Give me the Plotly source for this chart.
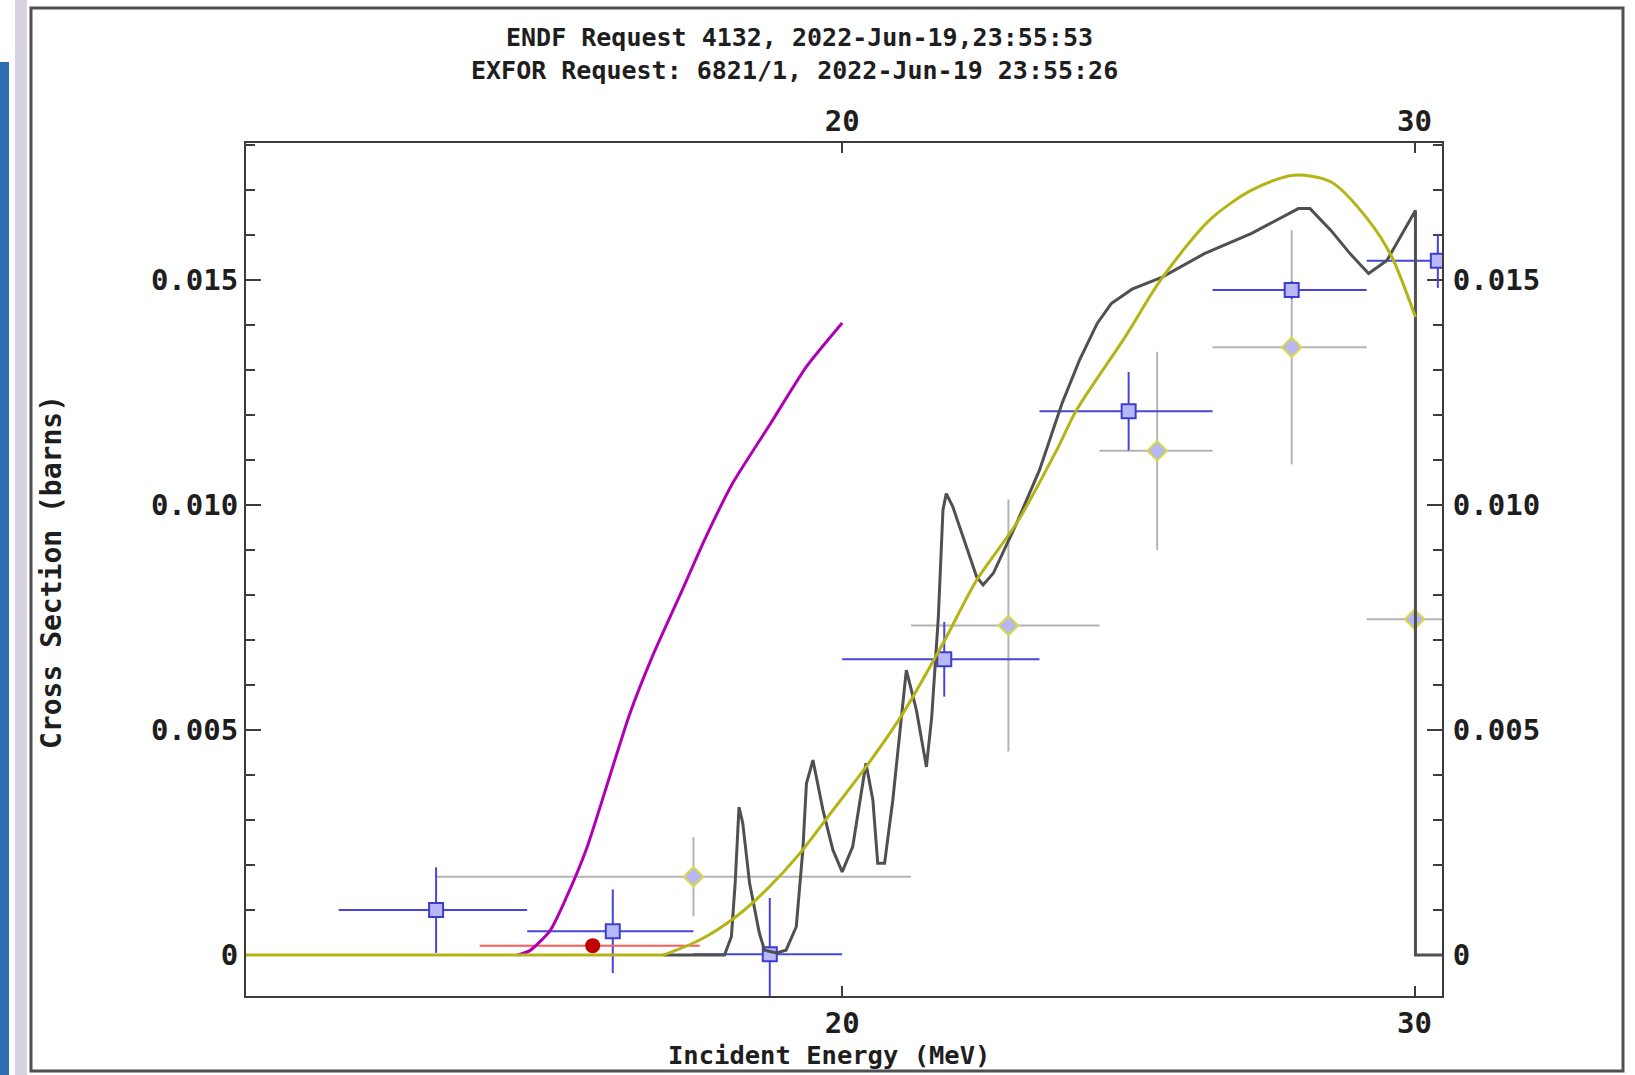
import math
import plotly.graph_objects as go

# ---------------- data ----------------
# EXFOR set 1 (blue squares)
blue_E = [15.0, 17.0, 19.0, 21.5, 24.5, 27.5, 30.5]
blue_dE = [1.0, 1.0, 1.0, 1.5, 1.5, 1.5, 1.5]
blue_sig = [0.00100, 0.00053, 0.00002, 0.00657, 0.01208, 0.01477, 0.01542]
blue_dsig = [0.00095, 0.00093, 0.00125, 0.00083, 0.00087, 0.00020, 0.00060]

# EXFOR set 2 (grey error bars, diamonds)
grey_E = [18.0, 22.5, 25.0, 27.5, 30.0]
grey_dE = [3.0, 1.5, 1.0, 1.5, 1.0]
grey_sig = [0.00174, 0.00732, 0.01120, 0.01350, 0.00746]
grey_dsig = [0.00088, 0.00280, 0.00220, 0.00260, 0.0]

# EXFOR set 3 (red point)
red_E = [16.76]
red_dE_minus = [1.29]
red_dE_plus = [1.32]
red_sig = [0.00021]

# Evaluation 1 (dark grey, with resonance structure)
blk_E = [17.62, 18.40, 18.49, 18.54, 18.59, 18.64, 18.73, 18.86, 18.93, 19.09,
         19.22, 19.36, 19.45, 19.50, 19.59, 19.73, 19.87, 20.00, 20.15, 20.34,
         20.44, 20.51, 20.61, 20.73, 20.93, 21.08, 21.23, 21.31, 21.41, 21.48,
         21.53, 21.63, 22.00, 22.10, 22.26, 22.63, 23.00, 23.37, 23.66, 23.96,
         24.20, 24.56, 25.09, 25.85, 26.73, 27.63, 27.86, 28.28, 28.66, 29.04,
         29.42, 30.02, 30.02, 31.0]
blk_sig = [0.0, 0.0, 0.00041, 0.00160, 0.00329, 0.00293, 0.00160, 0.00049, 0.00011, 0.00005,
           0.00011, 0.00063, 0.00233, 0.00381, 0.00433, 0.00322, 0.00233, 0.00185, 0.00241, 0.00426,
           0.00344, 0.00204, 0.00204, 0.00344, 0.00633, 0.00544, 0.00418, 0.00529, 0.00751, 0.00988,
           0.01025, 0.00996, 0.00840, 0.00822, 0.00848, 0.00959, 0.01077, 0.01225, 0.01321, 0.01403,
           0.01447, 0.01479, 0.01506, 0.01558, 0.01603, 0.01658, 0.01658, 0.01609, 0.01558, 0.01514,
           0.01543, 0.01654, 0.0, 0.0]

# Evaluation 2 (olive, smooth); zero below threshold
yel_E = [13.0, 17.62, 18.08, 18.55, 18.95, 19.41, 19.87, 20.34, 20.88, 21.48,
         22.00, 22.63, 23.28, 23.61, 24.44, 25.06, 25.94, 26.73, 27.54, 28.28,
         29.04, 29.52, 30.02]
yel_sig = [0.0, 0.0, 0.000335, 0.000853, 0.001445, 0.00226, 0.00322, 0.00418, 0.00537, 0.00692,
           0.00833, 0.00959, 0.01121, 0.01210, 0.01373, 0.01499, 0.01632, 0.01699, 0.01732, 0.01717,
           0.01632, 0.01551, 0.01417]
yel_threshold_index = 1

# Evaluation 3 (magenta, up to 20 MeV)
mag_E = [15.89, 16.03, 16.26, 16.45, 16.69, 16.96, 17.20, 17.48, 17.83, 18.16,
         18.51, 19.00, 19.50, 20.0]
mag_sig = [0.0, 0.0001, 0.00054, 0.00128, 0.00238, 0.00395, 0.00533, 0.00662, 0.00800, 0.00929,
           0.01049, 0.01178, 0.01307, 0.01404]

x_ticks = [20, 30]
x_ticktext = ["20", "30"]
y_ticks = [0, 0.005, 0.010, 0.015]
y_ticktext = ["0", "0.005", "0.010", "0.015"]

title1 = "ENDF Request 4132, 2022-Jun-19,23:55:53"
title2 = "EXFOR Request: 6821/1, 2022-Jun-19 23:55:26"
x_title = "Incident Energy (MeV)"
y_title = "Cross Section (barns)"

x_range = [13.11, 30.59]
y_range = [-0.000908, 0.018037]

# ---------------- layout geometry ----------------
W, H = 1635, 1075
PL, PR, PT, PB = 246, 1442, 143, 996


def px(x):
    return (x - PL) / (PR - PL)


def py(y):
    return (PB - y) / (PB - PT)


FONT = "DejaVu Sans Mono"
TXT = "#1e1e1e"
YEL = "#b4b414"

fig = go.Figure()

# data points
fig.add_trace(go.Scatter(
    x=grey_E, y=grey_sig, mode="markers",
    error_x=dict(type="data", array=grey_dE, color="#b4b4b4", thickness=2, width=0),
    error_y=dict(type="data", array=grey_dsig, color="#b4b4b4", thickness=2, width=0),
    marker=dict(symbol="diamond", size=15, color="#b8b8f0",
                line=dict(color="#d8d84a", width=2)),
    showlegend=False, hoverinfo="x+y"))

fig.add_trace(go.Scatter(
    x=blue_E, y=blue_sig, mode="markers",
    error_x=dict(type="data", array=blue_dE, color="#4646d8", thickness=2, width=0),
    error_y=dict(type="data", array=blue_dsig, color="#4646d8", thickness=2, width=0),
    marker=dict(symbol="square", size=14, color="#b8b8f8",
                line=dict(color="#3c3cd0", width=2)),
    showlegend=False, hoverinfo="x+y"))

fig.add_trace(go.Scatter(
    x=red_E, y=red_sig, mode="markers",
    error_x=dict(type="data", array=red_dE_plus, arrayminus=red_dE_minus,
                 color="#ff5a5a", thickness=2, width=0),
    marker=dict(symbol="circle", size=15, color="#c00000"),
    showlegend=False, hoverinfo="x+y"))

# curves
fig.add_trace(go.Scatter(x=blk_E, y=blk_sig, mode="lines",
                         line=dict(color="#505050", width=3),
                         showlegend=False))
fig.add_trace(go.Scatter(x=mag_E, y=mag_sig, mode="lines",
                         line=dict(color="#b000b4", width=3, shape="spline", smoothing=0.6),
                         showlegend=False))
k = yel_threshold_index
fig.add_trace(go.Scatter(x=yel_E[:k + 1], y=yel_sig[:k + 1], mode="lines",
                         line=dict(color=YEL, width=3), showlegend=False))
fig.add_trace(go.Scatter(x=yel_E[k:], y=yel_sig[k:], mode="lines",
                         line=dict(color=YEL, width=3, shape="spline", smoothing=0.8),
                         showlegend=False))

# helper trace so the mirrored (top / right) axes are drawn
fig.add_trace(go.Scatter(x=[x_ticks[0]], y=[y_ticks[0]], xaxis="x2", yaxis="y2",
                         mode="markers", marker=dict(opacity=0),
                         hoverinfo="skip", showlegend=False))

tickfont = dict(family=FONT, size=29, color=TXT, weight="bold")
axis_common = dict(showgrid=False, zeroline=False, showline=True,
                   linecolor="#3c3c3c", linewidth=2, layer="below traces")

xr = [math.log10(x_range[0]), math.log10(x_range[1])]

fig.update_layout(
    width=W, height=H,
    margin=dict(l=PL, r=W - PR, t=PT, b=H - PB, pad=0),
    paper_bgcolor="white", plot_bgcolor="white",
    xaxis=dict(type="log", range=xr, tickvals=x_ticks, ticktext=x_ticktext,
               ticks="inside", ticklen=10, tickwidth=2, tickcolor="#3c3c3c",
               tickfont=tickfont, ticklabelstandoff=0, **axis_common),
    xaxis2=dict(type="log", range=xr, tickvals=x_ticks, ticktext=x_ticktext,
                overlaying="x", side="top", anchor="y",
                ticks="inside", ticklen=10, tickwidth=2, tickcolor="#3c3c3c",
                tickfont=tickfont, ticklabelstandoff=-2, **axis_common),
    yaxis=dict(range=y_range, tickvals=y_ticks, ticktext=y_ticktext,
               ticks="inside", ticklen=15, tickwidth=2, tickcolor="#3c3c3c",
               minor=dict(ticks="inside", ticklen=9, dtick=0.001, tick0=0,
                          tickcolor="#3c3c3c", tickwidth=2),
               tickfont=tickfont, ticklabelstandoff=0, **axis_common),
    yaxis2=dict(range=y_range, tickvals=y_ticks, ticktext=y_ticktext,
                overlaying="y", side="right", anchor="x",
                ticks="inside", ticklen=15, tickwidth=2, tickcolor="#3c3c3c",
                minor=dict(ticks="inside", ticklen=9, dtick=0.001, tick0=0,
                           tickcolor="#3c3c3c", tickwidth=2),
                tickfont=tickfont, ticklabelstandoff=3, **axis_common),
)

titlefont = dict(family=FONT, size=25, color=TXT, weight="bold")
fig.add_annotation(text=title1, x=px(799), y=py(37), xref="paper", yref="paper",
                   xanchor="center", yanchor="middle", showarrow=False, font=titlefont)
fig.add_annotation(text=title2, x=px(794), y=py(71), xref="paper", yref="paper",
                   xanchor="center", yanchor="middle", showarrow=False, font=titlefont)
fig.add_annotation(text=x_title, x=px(829), y=py(1055), xref="paper", yref="paper",
                   xanchor="center", yanchor="middle", showarrow=False,
                   font=dict(family=FONT, size=25.5, color=TXT, weight="bold"))
fig.add_annotation(text=y_title, x=px(51), y=py(572), xref="paper", yref="paper",
                   xanchor="center", yanchor="middle", showarrow=False, textangle=-90,
                   font=dict(family=FONT, size=28, color=TXT, weight="bold"))

# window decorations around the chart
shapes = [
    dict(type="rect", xref="paper", yref="paper", x0=px(0), x1=px(9), y0=py(62), y1=py(1075),
         fillcolor="#2f6db2", line=dict(width=0), layer="below"),
    dict(type="rect", xref="paper", yref="paper", x0=px(15), x1=px(27), y0=py(0), y1=py(1075),
         fillcolor="#d8d2e2", line=dict(width=0), layer="below"),
    dict(type="rect", xref="paper", yref="paper", x0=px(31), x1=px(1623), y0=py(8), y1=py(1071),
         fillcolor="rgba(0,0,0,0)", line=dict(color="#505050", width=3), layer="below"),
]
fig.update_layout(shapes=shapes)

fig.write_html("out.html", config={"displayModeBar": False},
               post_script="document.body.style.margin='0px';")
